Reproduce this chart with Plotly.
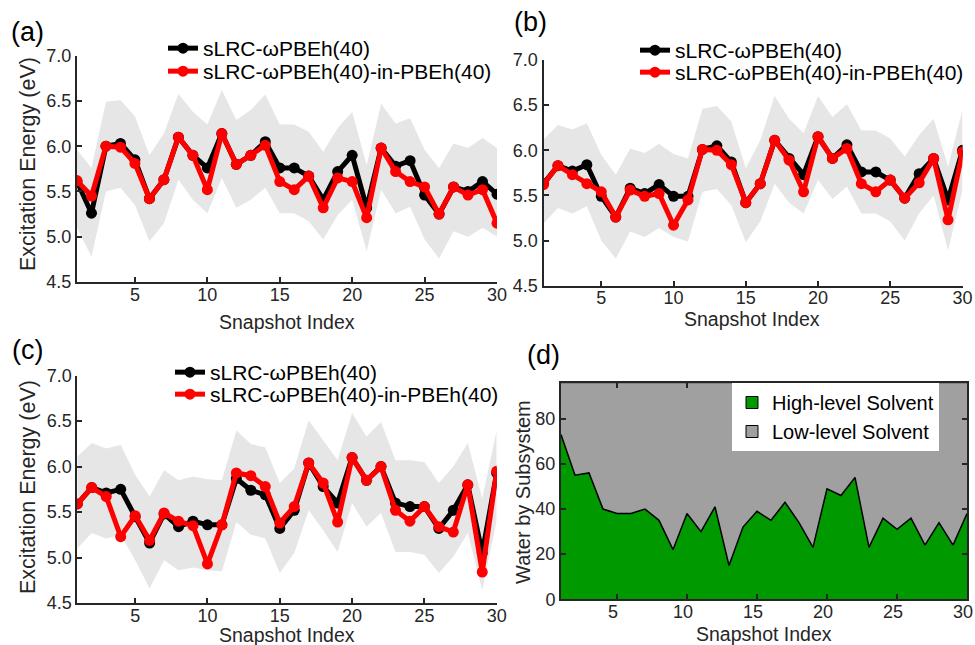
import plotly.graph_objects as go

W, H = 975, 645
FONT = "Liberation Sans, Arial, Helvetica, sans-serif"
DARK = "#262626"

idx = list(range(1, 31))

# Panel (a)
a_black = [5.61, 5.26, 6.00, 6.03, 5.85, 5.42, 5.63, 6.10, 5.90, 5.76, 6.14, 5.80, 5.90, 6.05, 5.76,
           5.76, 5.67, 5.41, 5.72, 5.90, 5.32, 5.98, 5.78, 5.84, 5.46, 5.25, 5.55, 5.50, 5.61, 5.47]
a_red = [5.62, 5.45, 6.00, 5.99, 5.81, 5.42, 5.63, 6.10, 5.90, 5.52, 6.14, 5.80, 5.90, 6.01, 5.61,
         5.52, 5.67, 5.32, 5.65, 5.61, 5.21, 5.98, 5.72, 5.61, 5.55, 5.25, 5.55, 5.46, 5.52, 5.15]
a_upper = [5.96, 5.76, 6.49, 6.51, 6.33, 5.90, 6.14, 6.58, 6.38, 6.24, 6.62, 6.29, 6.40, 6.57, 6.24,
           6.24, 6.16, 5.94, 6.20, 6.38, 5.79, 6.47, 6.25, 6.31, 5.96, 5.76, 6.03, 5.98, 6.09, 5.98]
a_lower = [5.10, 4.78, 5.50, 5.54, 5.35, 4.95, 5.15, 5.63, 5.41, 5.26, 5.65, 5.32, 5.41, 5.54, 5.26,
           5.26, 5.17, 4.97, 5.24, 5.41, 4.84, 5.52, 5.26, 5.33, 4.97, 4.76, 5.06, 5.00, 5.10, 5.00]

# Panel (b)
b_black = [5.63, 5.83, 5.77, 5.84, 5.49, 5.26, 5.58, 5.52, 5.62, 5.49, 5.49, 6.01, 6.05, 5.87, 5.42,
           5.63, 6.11, 5.91, 5.73, 6.15, 5.91, 6.06, 5.76, 5.76, 5.67, 5.47, 5.74, 5.91, 5.45, 6.00]
b_red = [5.62, 5.83, 5.73, 5.63, 5.54, 5.26, 5.56, 5.49, 5.52, 5.17, 5.45, 6.01, 6.00, 5.84, 5.42,
         5.63, 6.11, 5.89, 5.54, 6.15, 5.91, 6.02, 5.63, 5.54, 5.67, 5.47, 5.64, 5.91, 5.23, 5.98]
b_upper = [6.12, 6.28, 6.23, 6.30, 5.95, 5.73, 6.02, 5.97, 6.07, 5.96, 5.91, 6.46, 6.49, 6.32, 5.80,
           6.11, 6.60, 6.35, 6.19, 6.60, 6.37, 6.51, 6.22, 6.22, 6.13, 5.93, 6.17, 6.35, 5.82, 6.45]
b_lower = [5.19, 5.36, 5.30, 5.38, 5.00, 4.80, 5.10, 5.04, 5.14, 5.04, 4.99, 5.54, 5.57, 5.39, 4.98,
           5.21, 5.63, 5.42, 5.30, 5.67, 5.46, 5.60, 5.30, 5.30, 5.21, 5.00, 5.30, 5.50, 4.89, 5.56]

# Panel (c)
c_black = [5.59, 5.77, 5.71, 5.75, 5.45, 5.16, 5.48, 5.34, 5.40, 5.36, 5.36, 5.87, 5.74, 5.69, 5.32,
           5.52, 6.04, 5.78, 5.60, 6.10, 5.85, 6.00, 5.60, 5.56, 5.56, 5.32, 5.52, 5.80, 5.05, 5.93]
c_red = [5.59, 5.77, 5.67, 5.23, 5.46, 5.19, 5.49, 5.40, 5.35, 4.93, 5.36, 5.93, 5.90, 5.78, 5.38,
         5.56, 6.04, 5.82, 5.39, 6.10, 5.85, 6.00, 5.52, 5.40, 5.56, 5.34, 5.28, 5.80, 4.84, 5.95]
c_upper = [6.11, 6.26, 6.20, 6.24, 5.91, 5.67, 5.96, 5.85, 5.89, 5.86, 5.85, 6.40, 6.25, 6.21, 5.82,
           5.98, 6.51, 6.29, 6.07, 6.59, 6.33, 6.49, 6.07, 6.07, 6.05, 5.82, 6.00, 6.26, 5.65, 6.40]
c_lower = [5.10, 5.27, 5.21, 5.25, 4.97, 4.66, 4.97, 4.86, 4.89, 4.86, 4.85, 5.39, 5.25, 5.21, 4.83,
           5.05, 5.52, 5.30, 5.06, 5.60, 5.34, 5.49, 5.06, 5.06, 5.03, 4.83, 5.01, 5.27, 4.64, 5.41]

# Panel (d)
d_high = [73, 55, 56, 40, 38, 38, 40, 35, 22, 38, 30, 41, 15, 32, 39, 35, 43, 34, 23, 49,
          46, 54, 23, 36, 31, 36, 24, 34, 24, 38]
d_low = [23, 41, 40, 56, 58, 58, 56, 61, 74, 58, 66, 55, 81, 64, 57, 61, 53, 62, 73, 47,
         50, 42, 73, 60, 65, 60, 72, 62, 72, 58]

name_black = "sLRC-ωPBEh(40)"
name_red = "sLRC-ωPBEh(40)-in-PBEh(40)"
x_ticks = [5, 10, 15, 20, 25, 30]
y_ticks = [4.5, 5.0, 5.5, 6.0, 6.5, 7.0]


def px(x):
    return x / W


def py(y):
    return 1 - y / H


fig = go.Figure()

panels = [
    ("", a_black, a_red, a_upper, a_lower, "legend", "legend2"),
    ("2", b_black, b_red, b_upper, b_lower, "legend3", "legend4"),
    ("3", c_black, c_red, c_upper, c_lower, "legend5", "legend6"),
]
for suf, blk, red, up, lo, lg1, lg2 in panels:
    xa, ya = "x" + suf, "y" + suf
    fig.add_trace(go.Scatter(x=idx + idx[::-1], y=up + lo[::-1], fill="toself",
                             fillcolor="rgb(230,230,230)", line=dict(width=0),
                             mode="lines", hoverinfo="skip", showlegend=False,
                             xaxis=xa, yaxis=ya))
    fig.add_trace(go.Scatter(x=idx, y=blk, mode="lines+markers", name=name_black,
                             line=dict(color="black", width=5),
                             marker=dict(color="black", size=11),
                             xaxis=xa, yaxis=ya, legend=lg1))
    fig.add_trace(go.Scatter(x=idx, y=red, mode="lines+markers", name=name_red,
                             line=dict(color="#ff0000", width=5),
                             marker=dict(color="#ff0000", size=11),
                             xaxis=xa, yaxis=ya, legend=lg2))

fig.add_trace(go.Scatter(x=idx, y=d_high, stackgroup="one", name="High-level Solvent",
                         fillcolor="#009900", line=dict(color="black", width=1.5),
                         mode="lines", xaxis="x4", yaxis="y4", showlegend=False))
fig.add_trace(go.Scatter(x=idx, y=d_low, stackgroup="one", name="Low-level Solvent",
                         fillcolor="#a0a0a0", line=dict(color="black", width=1),
                         mode="lines", xaxis="x4", yaxis="y4", showlegend=False))
# legend entries for panel (d)
fig.add_trace(go.Bar(x=[None], y=[None], name="High-level Solvent",
                     marker=dict(color="#009900", line=dict(color="black", width=1)),
                     xaxis="x4", yaxis="y4", legend="legend7"))
fig.add_trace(go.Bar(x=[None], y=[None], name="Low-level Solvent",
                     marker=dict(color="#a0a0a0", line=dict(color="black", width=1)),
                     xaxis="x4", yaxis="y4", legend="legend7"))

tickfont = dict(family=FONT, size=18, color=DARK)
common_x = dict(type="linear", range=[1, 30], tickmode="array", tickvals=x_ticks, ticks="inside",
                ticklen=5, tickwidth=1.5, tickcolor=DARK, showline=True, linecolor=DARK, linewidth=2,
                showgrid=False, zeroline=False, tickfont=tickfont, ticklabeloverflow="allow",
                ticklabelstandoff=-5)
common_y = dict(type="linear", range=[4.5, 7.0], tickmode="array", tickvals=y_ticks, tickformat=".1f",
                ticks="inside", ticklen=5, tickwidth=1.5, tickcolor=DARK, showline=True,
                linecolor=DARK, linewidth=2, showgrid=False, zeroline=False, tickfont=tickfont)

dom = {
    "": ([77, 497], [282, 55.7]),
    "2": ([543.5, 962.5], [285.7, 60]),
    "3": ([77.3, 496.7], [603, 375.7]),
    "4": ([561, 967], [599.3, 382.7]),
}
layout = {}
for suf, (xd, yd) in dom.items():
    n = suf
    xdomain = [px(xd[0]), px(xd[1])]
    ydomain = [py(yd[0]), py(yd[1])]
    if suf == "4":
        layout["xaxis4"] = dict(common_x, domain=xdomain, anchor="y4", mirror="ticks",
                                ticklabelshift=-4)
        layout["yaxis4"] = dict(common_y, domain=ydomain, anchor="x4", range=[0, 96],
                                tickvals=[0, 20, 40, 60, 80], tickformat="d", mirror="ticks")
    else:
        layout["xaxis" + n] = dict(common_x, domain=xdomain, anchor="y" + n)
        layout["yaxis" + n] = dict(common_y, domain=ydomain, anchor="x" + n)

legfont = dict(family=FONT, size=21, color="black")


def leg(xtext, ycenter):
    return dict(x=px(xtext - 40), y=py(ycenter - 19), xanchor="left", yanchor="top",
                bgcolor="rgba(0,0,0,0)", font=legfont, borderwidth=0, tracegroupgap=0, itemwidth=30)


layout["legend"] = leg(203, 47)
layout["legend2"] = leg(203, 70)
layout["legend3"] = leg(675, 49)
layout["legend4"] = leg(675, 71)
layout["legend5"] = leg(210, 371)
layout["legend6"] = leg(210, 393)
layout["legend7"] = dict(x=px(732), y=py(383), xanchor="left", yanchor="top", bgcolor="white",
                         font=dict(family=FONT, size=20, color="black"), borderwidth=0,
                         tracegroupgap=0, itemwidth=30, traceorder="normal")

ann = []
titlefont = dict(family=FONT, size=19.5, color=DARK)
for xc, yc in [(287, 322), (752, 319), (287, 635), (764, 634)]:
    ann.append(dict(x=px(xc), y=py(yc), xref="paper", yref="paper", text="Snapshot Index",
                    showarrow=False, font=titlefont, xanchor="center", yanchor="middle"))
for yc in [164, 487]:
    ann.append(dict(x=px(28), y=py(yc), xref="paper", yref="paper", text="Excitation Energy (eV)",
                    showarrow=False, font=dict(family=FONT, size=21.5, color=DARK), textangle=-90,
                    xanchor="center", yanchor="middle"))
ann.append(dict(x=px(523), y=py(492), xref="paper", yref="paper", text="Water by Subsystem",
                showarrow=False, font=dict(family=FONT, size=20, color=DARK), textangle=-90,
                xanchor="center", yanchor="middle"))
for t, xc, yc in [("(a)", 27, 32), ("(b)", 530, 22), ("(c)", 27, 350), ("(d)", 543, 355)]:
    ann.append(dict(x=px(xc), y=py(yc), xref="paper", yref="paper", text=t, showarrow=False,
                    font=dict(family=FONT, size=27, color="black"), xanchor="center", yanchor="middle"))

fig.update_layout(width=W, height=H, margin=dict(l=0, r=0, t=0, b=0, autoexpand=False),
                  plot_bgcolor="white", paper_bgcolor="white", annotations=ann, **layout)

fig.write_html("out.html")
